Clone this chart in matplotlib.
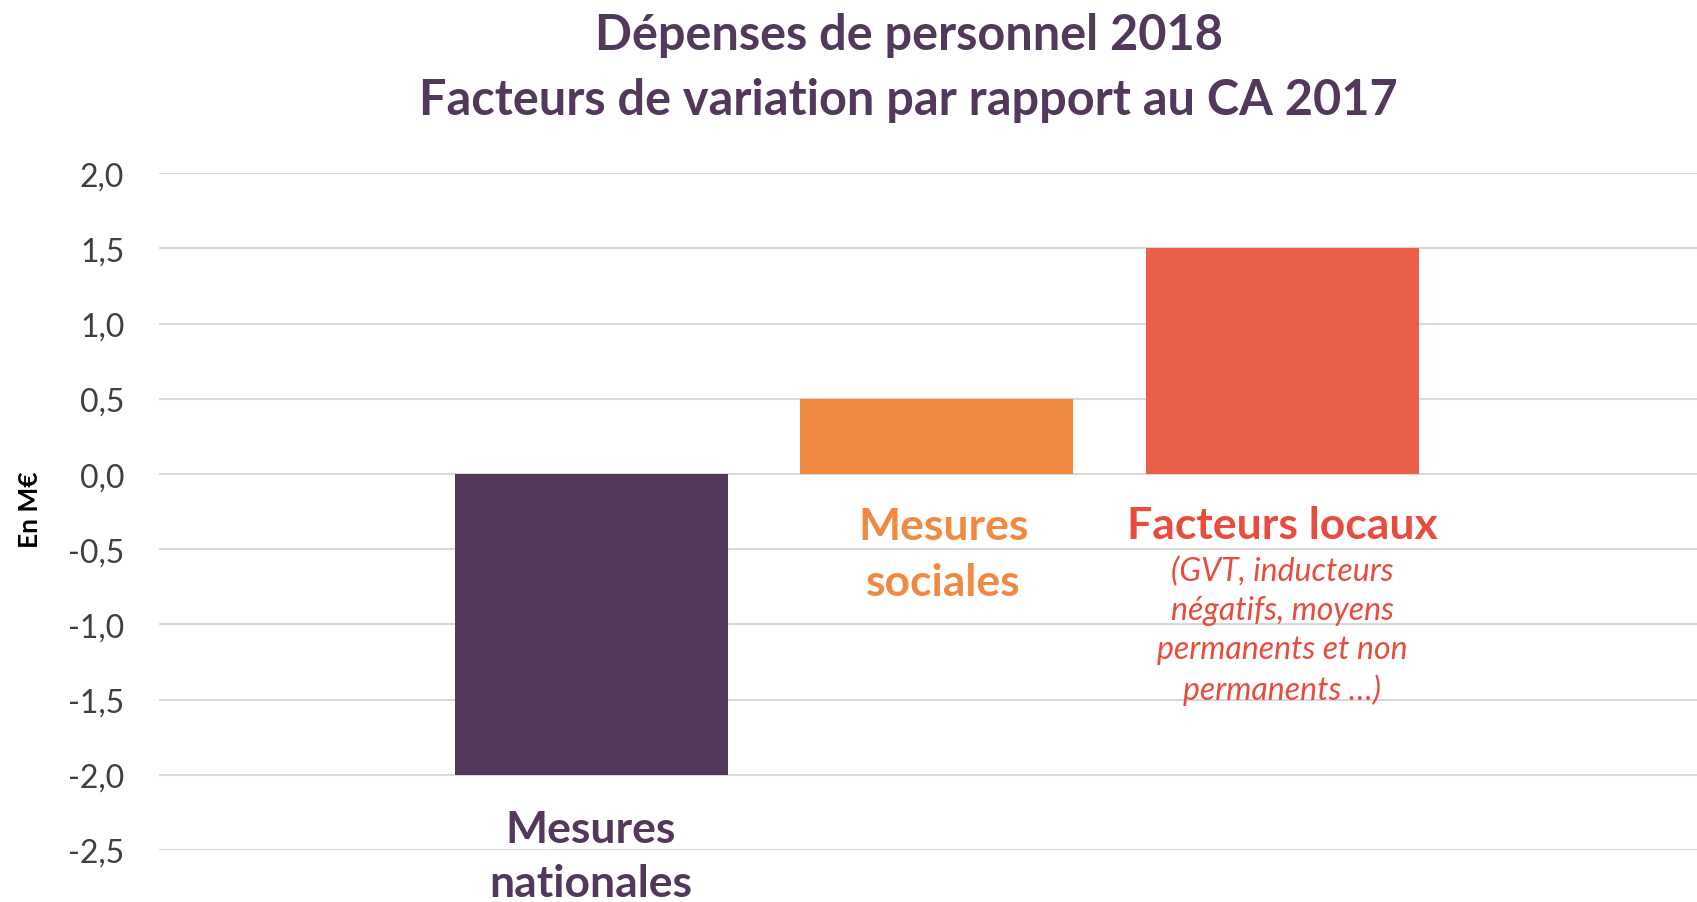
import matplotlib.pyplot as plt

# Data
categories = ["Mesures\nnationales", "Mesures\nsociales", "Facteurs locaux"]
values = [-2.0, 0.5, 1.5]
bar_colors = ["#52385B", "#F08A42", "#EA5F48"]
label_colors = ["#52385B", "#F08A42", "#E84C3D"]
note = "(GVT, inducteurs\nnégatifs, moyens\npermanents et non\npermanents \u2026)"
yticks = [-2.5, -2.0, -1.5, -1.0, -0.5, 0.0, 0.5, 1.0, 1.5, 2.0]

plt.rcParams['font.family'] = ['Lato', 'DejaVu Sans']

fig = plt.figure(figsize=(16.97, 9.03), dpi=100)
ax = fig.add_axes([0.0937, 0.0576, 0.9063, 0.7494])

x = list(range(len(values)))
ax.bar(x, values, width=0.79, color=bar_colors, zorder=2)

ax.set_xlim(-1.25, 3.2)
ax.set_ylim(-2.5, 2.0)
ax.set_yticks(yticks)
ax.set_yticklabels([f"{v:.1f}".replace(".", ",") for v in yticks],
                   fontsize=23, color="#404040")
ax.set_xticks([])
ax.tick_params(axis="y", length=0, pad=25)
ax.grid(axis="y", color="#D9D9D9", linewidth=1.5, zorder=0)
for s in ax.spines.values():
    s.set_visible(False)

ax.set_ylabel("En M\u20ac", fontsize=19, fontweight="bold", color="black")
ax.yaxis.set_label_coords(-0.076, 0.505)

# category labels
ax.text(0, -2.54, categories[0], ha="center", va="center", fontsize=32,
        fontweight="bold", color=label_colors[0], linespacing=1.41, clip_on=False)
ax.text(1.02, -0.53, categories[1], ha="center", va="center", fontsize=32,
        fontweight="bold", color=label_colors[1], linespacing=1.48)
ax.text(2, -0.34, categories[2], ha="center", va="center", fontsize=32,
        fontweight="bold", color=label_colors[2])
ax.text(2, -1.04, note, ha="center", va="center", fontsize=23, style="italic",
        color=label_colors[2], linespacing=1.37)

fig.text(0.5354, 0.9247, "Dépenses de personnel 2018\nFacteurs de variation par rapport au CA 2017",
         ha="center", va="center", fontsize=35, fontweight="bold", color="#52385B",
         linespacing=1.55)

fig.savefig("out.png", dpi=100)
